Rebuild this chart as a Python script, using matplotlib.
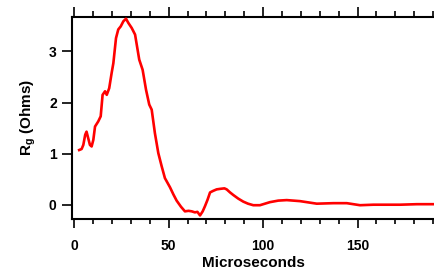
import matplotlib
matplotlib.use("Agg")
import matplotlib.pyplot as plt
from matplotlib.ticker import MultipleLocator

t_us = [2.6, 3.9, 4.8, 5.8, 6.5, 7.4, 8.3, 9.2, 10.1, 11.0, 12.7, 14.0, 15.0,
        16.3, 17.2, 18.5, 19.8, 20.7, 22.1, 23.3, 24.6, 26.0, 27.4, 28.6,
        30.4, 32.2, 34.4, 36.2, 38.0, 39.7, 41.0, 42.7, 44.5, 46.3, 48.0,
        50.7, 52.5, 54.2, 56.5, 58.6, 60.5, 62.2, 63.9, 65.2, 66.6,
        68.0, 69.2, 70.6, 71.9, 73.5, 75.4, 77.2, 79.5, 80.7, 82.5, 84.2,
        86.8, 89.5, 92.0, 94.8, 98.3, 103.6, 108.0, 112.5, 119.5, 128.4,
        137.2, 144.3, 151.3, 158.4, 172.5, 181.4, 191.0]
rg_ohm = [1.07, 1.09, 1.17, 1.37, 1.43, 1.30, 1.17, 1.14, 1.27, 1.53, 1.63,
          1.73, 2.15, 2.22, 2.15, 2.28, 2.58, 2.77, 3.26, 3.43, 3.49, 3.59,
          3.64, 3.56, 3.46, 3.33, 2.84, 2.64, 2.25, 1.96, 1.86, 1.40, 1.01,
          0.75, 0.52, 0.34, 0.20, 0.08, -0.04, -0.13, -0.12, -0.13,
          -0.15, -0.14, -0.21, -0.13, -0.03, 0.10, 0.24, 0.27, 0.30, 0.31,
          0.32, 0.30, 0.24, 0.19, 0.12, 0.06, 0.02, -0.01, -0.01, 0.05, 0.08,
          0.09, 0.07, 0.02, 0.03, 0.03, -0.01, 0.00, 0.00, 0.01, 0.01]

plt.rcParams["font.family"] = ["Liberation Sans", "DejaVu Sans"]
plt.rcParams["font.weight"] = "bold"
plt.rcParams["mathtext.fontset"] = "custom"
plt.rcParams["mathtext.rm"] = "Liberation Sans:bold"
plt.rcParams["mathtext.bf"] = "Liberation Sans:bold"

fig = plt.figure(figsize=(4.35, 2.74), dpi=100)
ax = fig.add_axes([0.1655, 0.2007, 0.8345, 0.7384])

ax.plot(t_us, rg_ohm, color="#ff0000", lw=1.9, solid_joinstyle="round")

ax.set_xlim(-1.2, 191)
ax.set_ylim(-0.28, 3.68)

ax.xaxis.set_major_locator(MultipleLocator(50))
ax.xaxis.set_minor_locator(MultipleLocator(10))
ax.yaxis.set_major_locator(MultipleLocator(1))

ax.spines["right"].set_visible(False)
ax.spines["top"].set_visible(False)
for s in ("left", "bottom"):
    ax.spines[s].set_linewidth(1.5)

ax.tick_params(axis="x", which="both", direction="out", width=1.2,
               labelsize=10, pad=8)
ax.tick_params(axis="x", which="major", length=6.5)
ax.tick_params(axis="x", which="minor", length=3.5)
ax.tick_params(axis="y", which="major", direction="out", length=7, width=1.2,
               labelsize=10, pad=4)

# top axis: ticks only, longer than the bottom ones
top = ax.secondary_xaxis("top")
top.spines["top"].set_linewidth(1.5)
top.xaxis.set_major_locator(MultipleLocator(50))
top.xaxis.set_minor_locator(MultipleLocator(10))
top.tick_params(which="both", direction="out", width=1.2, labeltop=False)
top.tick_params(which="major", length=7.5)
top.tick_params(which="minor", length=4.3)

ax.set_xlabel("Microseconds", fontsize=11, fontweight="bold", labelpad=2)
ax.set_ylabel("R$_\\mathregular{g}$ (Ohms)", fontsize=11, fontweight="bold",
              labelpad=8)

fig.savefig("out.png", dpi=100)
